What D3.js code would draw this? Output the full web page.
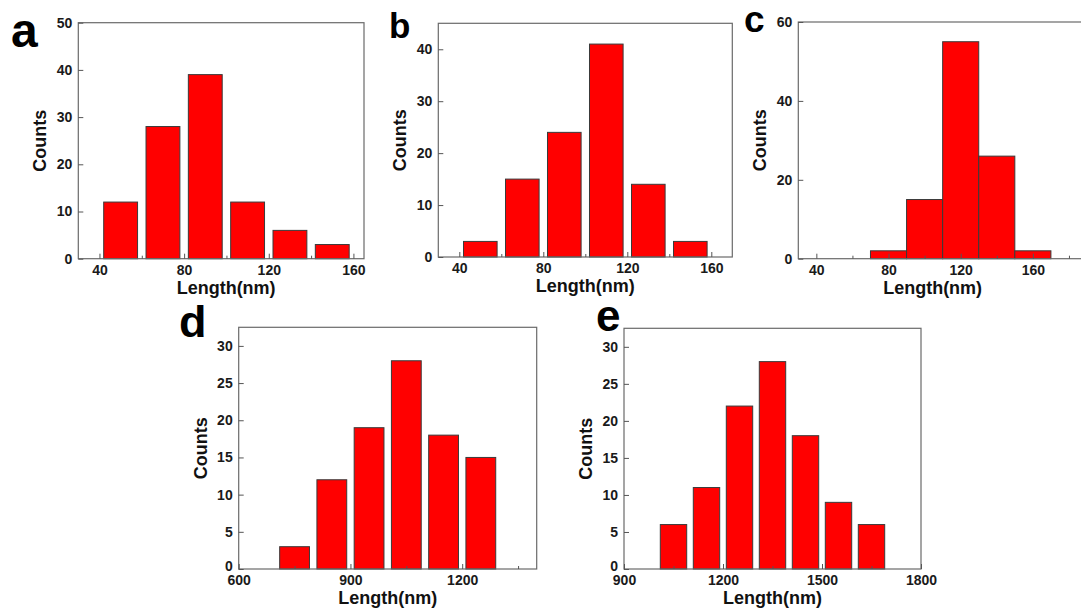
<!DOCTYPE html>
<html>
<head>
<meta charset="utf-8">
<script src="https://cdn.jsdelivr.net/npm/d3@7"></script>
<style>
  body { margin: 0; background: #fff; }
  svg { display: block; font-family: "Liberation Sans", Arial, sans-serif; }
  .tick text { font-size: 14px; font-weight: bold; fill: #1a1a1a; }
  .tick line { stroke: #555; }
  .title { font-size: 18px; font-weight: bold; fill: #111; }
  .letter { font-weight: bold; fill: #000; }
</style>
</head>
<body>
<svg id="chart" width="1081" height="613"></svg>
<script>
// Histogram data (bin start, bin width, counts)
var binsA = [40, 60, 80, 100, 120, 140],
  countsA = [12, 28, 39, 12, 6, 3];
var binsB = [40, 60, 80, 100, 120, 140],
  countsB = [3, 15, 24, 41, 14, 3];
var binsC = [70, 90, 110, 130, 150],
  countsC = [2, 15, 55, 26, 2];
var binsD = [700, 800, 900, 1000, 1100, 1200],
  countsD = [3, 12, 19, 28, 18, 15];
var binsE = [1000, 1100, 1200, 1300, 1400, 1500, 1600],
  countsE = [6, 11, 22, 28, 18, 9, 6];

// Tick labels
var xTicksNm = [40, 80, 120, 160],
  xMinorA = [60, 100, 140],
  xMinorC = [60, 100, 140, 180];
var xTicksD = [600, 900, 1200],
  xMinorD = [750, 1050, 1350];
var xTicksE = [900, 1200, 1500, 1800],
  xMinorE = [1050, 1350, 1650];
var yTicksA = [0, 10, 20, 30, 40, 50],
  yTicksB = [0, 10, 20, 30, 40],
  yTicksC = [0, 20, 40, 60],
  yTicksDE = [0, 5, 10, 15, 20, 25, 30];

var panels = [
  {letter: "a", bins: binsA, counts: countsA, binW: 20, barFrac: 0.8,
    xDomain: [30, 165], yDomain: [0, 50], xTicks: xTicksNm, xMinor: xMinorA, yTicks: yTicksA,
    box: [78.3, 22.7, 364, 258.7], letterPos: [11, 47, 48], titleDx: 5, zeroUp: 0},
  {letter: "b", bins: binsB, counts: countsB, binW: 20, barFrac: 0.8,
    xDomain: [30, 170], yDomain: [0, 45], xTicks: xTicksNm, xMinor: xMinorA, yTicks: yTicksB,
    box: [438.3, 23.3, 732.3, 257], letterPos: [389, 38, 35], titleDx: 0, zeroUp: 0},
  {letter: "c", bins: binsC, counts: countsC, binW: 20, barFrac: 1,
    xDomain: [30, 190], yDomain: [0, 60], xTicks: xTicksNm, xMinor: xMinorC, yTicks: yTicksC,
    box: [798.3, 22, 1087, 258.7], letterPos: [744, 32, 37], titleDx: -10, zeroUp: 0},
  {letter: "d", bins: binsD, counts: countsD, binW: 100, barFrac: 0.8,
    xDomain: [600, 1400], yDomain: [0, 32.5], xTicks: xTicksD, xMinor: xMinorD, yTicks: yTicksDE,
    box: [238.7, 327.3, 536.7, 569], letterPos: [179, 337, 45], titleDx: 0, zeroUp: 3},
  {letter: "e", bins: binsE, counts: countsE, binW: 100, barFrac: 0.8,
    xDomain: [900, 1800], yDomain: [0, 32.5], xTicks: xTicksE, xMinor: xMinorE, yTicks: yTicksDE,
    box: [624, 328.3, 921, 569], letterPos: [596, 331, 44], titleDx: 0, zeroUp: 3}
];

var svg = d3.select("#chart");
var fmt = d3.format("d");

panels.forEach(function(p) {
  var left = p.box[0], top = p.box[1],
    width = p.box[2] - p.box[0], height = p.box[3] - p.box[1];

  var x = d3.scaleLinear().domain(p.xDomain).range([0, width]),
    y = d3.scaleLinear().domain(p.yDomain).range([height, 0]);

  var g = svg.append("g")
    .attr("transform", "translate(" + left + "," + top + ")");

  // Bars
  var binPx = function(i) { return x(p.bins[i] + p.binW) - x(p.bins[i]); };
  g.selectAll("rect.bar")
    .data(p.counts).enter().append("rect")
      .attr("class", "bar")
      .attr("x", function(d, i) { return x(p.bins[i] + p.binW / 2) - binPx(i) * p.barFrac / 2; })
      .attr("width", function(d, i) { return binPx(i) * p.barFrac; })
      .attr("y", function(d) { return y(d); })
      .attr("height", function(d) { return height - y(d); })
      .attr("fill", "#ff0000")
      .attr("stroke", "#3a3a3a")
      .attr("stroke-width", 1);

  // Frame
  g.append("rect")
    .attr("width", width)
    .attr("height", height)
    .attr("fill", "none")
    .attr("stroke", "#6a6a6a")
    .attr("stroke-width", 1.2);

  // X axis, ticks pointing inside
  var xa = g.append("g")
    .attr("transform", "translate(0," + height + ")")
    .call(d3.axisBottom(x).tickValues(p.xTicks).tickFormat(fmt).tickSizeInner(-5).tickSizeOuter(0).tickPadding(6));
  xa.select(".domain").remove();
  var xm = g.append("g")
    .attr("transform", "translate(0," + height + ")")
    .call(d3.axisBottom(x).tickValues(p.xMinor).tickSizeInner(-3).tickSizeOuter(0).tickFormat(""));
  xm.select(".domain").remove();

  // Y axis
  var ya = g.append("g")
    .call(d3.axisLeft(y).tickValues(p.yTicks).tickFormat(fmt).tickSizeInner(-5).tickSizeOuter(0).tickPadding(6));
  ya.select(".domain").remove();
  ya.selectAll(".tick text")
    .filter(function(d) { return d === 0; })
    .attr("y", -p.zeroUp);

  // Axis titles
  g.append("text")
    .attr("class", "title")
    .attr("x", width / 2 + p.titleDx)
    .attr("y", height + 35)
    .attr("text-anchor", "middle")
    .text("Length(nm)");
  g.append("text")
    .attr("class", "title")
    .attr("transform", "translate(-32," + (height / 2) + ") rotate(-90)")
    .attr("text-anchor", "middle")
    .text("Counts");

  // Panel letter
  svg.append("text")
    .attr("class", "letter")
    .attr("x", p.letterPos[0])
    .attr("y", p.letterPos[1])
    .style("font-size", p.letterPos[2] + "px")
    .text(p.letter);
});
</script>
</body>
</html>
